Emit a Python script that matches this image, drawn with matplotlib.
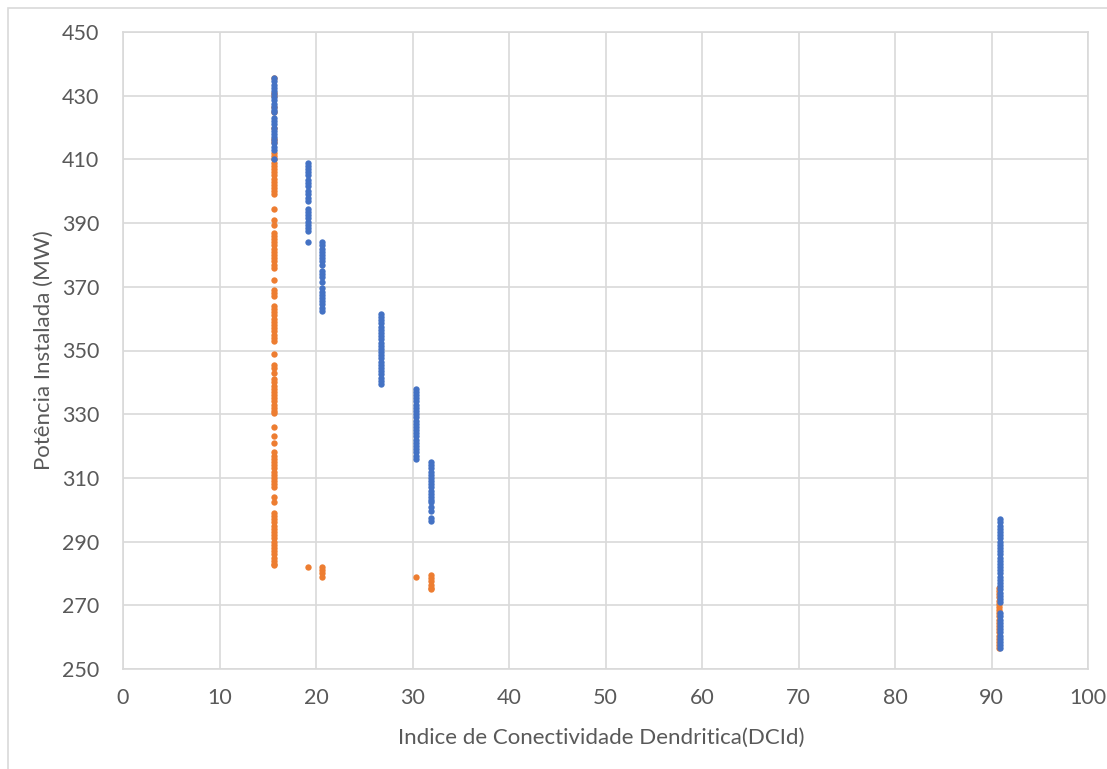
import numpy as np
import matplotlib.pyplot as plt
from matplotlib.patches import Rectangle

# Indice de Conectividade Dendritica (x) for each vertical group of points
blue_dci = [15.65, 19.2, 20.65, 26.7, 30.36, 31.9, 90.92]
blue_mw = [
    [435.5, 434.5, 433.5, 432.5, 431.5, 430.5, 429.5, 428.5, 427.5, 426.5, 425.5, 424.8,
     423, 422, 421, 420, 419, 418, 417, 416, 415, 414, 413, 410],
    [409, 408, 407, 406, 405, 403.5, 402.5, 401.5, 400, 399, 398, 397,
     394.5, 393.5, 392.5, 391.5, 390.5, 389.5, 388.5, 387.5, 384],
    [384, 383, 382, 381, 380, 379, 378, 377, 375, 374, 373, 371.5,
     369.5, 368.5, 367.5, 366.5, 365.5, 364.5, 363.5, 362.5],
    [361.5, 360.5, 359.5, 358.5, 357.5, 356.5, 355.5, 354.5, 353.5, 352.5, 351.5, 350.5,
     349.5, 348.5, 347.5, 346.5, 345.5, 344.5, 343.5, 342.5, 341.5, 340.5, 339.5],
    [338, 337, 336, 335, 334, 333, 332, 331, 330, 329, 328, 327,
     326, 325, 324, 323, 322, 321, 320, 319, 318, 317, 316],
    [315, 314, 313, 312, 311, 310, 309, 308, 307, 306, 305, 304, 303, 302.5,
     301, 299.5, 297.5, 296.5],
    [297, 296, 295, 294, 293, 292, 291, 290, 289, 288, 287, 286, 285, 284, 283, 282, 281, 280,
     279, 278, 277, 276, 275, 274, 273, 272, 271,
     267.5, 266.5, 265.5, 264.5, 263.5, 262.5, 261.5, 260.5, 259.5, 258.5, 257.5, 256.5],
]

orange_dci = [15.65, 19.2, 20.65, 30.4, 31.9, 90.8]
orange_mw = [
    [435.5, 431, 430, 426.5, 425, 420, 416.5, 415.5,
     412, 411, 410, 409, 408, 407, 406, 405, 404, 403, 402, 401, 400, 399,
     394.5, 391, 389.5,
     387, 386, 385, 384, 383, 382, 381, 380, 379, 378, 377, 376,
     372, 369, 368, 367,
     364, 363, 362, 361, 360, 359, 358, 357, 356, 355, 354, 353,
     349, 345.5, 344.5, 343,
     341, 340, 339, 338, 337, 336, 335, 334, 333, 332, 331, 330.5,
     326, 323, 321,
     318, 317, 316, 315, 314, 313, 312, 311, 310, 309, 308, 307,
     304, 302.5,
     299, 298, 297, 296, 295, 294, 293, 292, 291, 290, 289, 288, 287, 286, 285, 284, 283, 282.5],
    [282],
    [282, 281, 280, 279],
    [279],
    [279.5, 278.5, 277.5, 276.5, 275.5, 275],
    [275.5, 274.5, 273.5, 272.5, 271.5, 270.5, 269.5, 268.5, 267.5, 266.5, 265.5,
     264.5, 263.5, 262.5, 261.5, 260.5, 259.5, 258.5, 257.5, 256.5],
]

x_ticks = [0, 10, 20, 30, 40, 50, 60, 70, 80, 90, 100]
y_ticks = [250, 270, 290, 310, 330, 350, 370, 390, 410, 430, 450]

BLUE = '#4472C4'
ORANGE = '#ED7D31'
TXT = '#595959'
GRID = '#d9d9d9'

plt.rcParams['font.family'] = ['Lato', 'DejaVu Sans']

W, H = 1107, 769
fig = plt.figure(figsize=(W / 100, H / 100), dpi=100)
# chart area border (cropped at right / bottom)
fig.patches.append(Rectangle((8 / W, -0.1), 1.2, 1 - 8 / H + 0.1, transform=fig.transFigure,
                             fill=False, edgecolor=GRID, lw=1.2))

ax = fig.add_axes([123 / W, 1 - 669 / H, (1088 - 123) / W, (669 - 32) / H])

ox = np.concatenate([[x] * len(v) for x, v in zip(orange_dci, orange_mw)])
oy = np.concatenate(orange_mw)
bx = np.concatenate([[x] * len(v) for x, v in zip(blue_dci, blue_mw)])
by = np.concatenate(blue_mw)
ax.scatter(ox, oy, s=21, color=ORANGE, linewidths=0, zorder=3)
ax.scatter(bx, by, s=21, color=BLUE, linewidths=0, zorder=4)

ax.set_xlim(0, 100)
ax.set_ylim(250, 450)
ax.set_xticks(x_ticks)
ax.set_yticks(y_ticks)
ax.grid(True, color=GRID, lw=1.2)
ax.set_axisbelow(True)
for sp in ax.spines.values():
    sp.set_color(GRID)
    sp.set_linewidth(1.2)
ax.tick_params(length=0, labelsize=15.5, labelcolor=TXT)
ax.tick_params(axis='y', pad=17)
ax.tick_params(axis='x', pad=14)

ax.set_xlabel('Indice de Conectividade Dendritica(DCId)', fontsize=16, color=TXT, va='center')
ax.set_ylabel('Potência Instalada (MW)', fontsize=16, color=TXT, va='center')
ax.xaxis.set_label_coords((601 - 123) / 965, (669 - 738) / 637)
ax.yaxis.set_label_coords((44 - 123) / 965, 0.5)

fig.savefig('out.png', dpi=100)
